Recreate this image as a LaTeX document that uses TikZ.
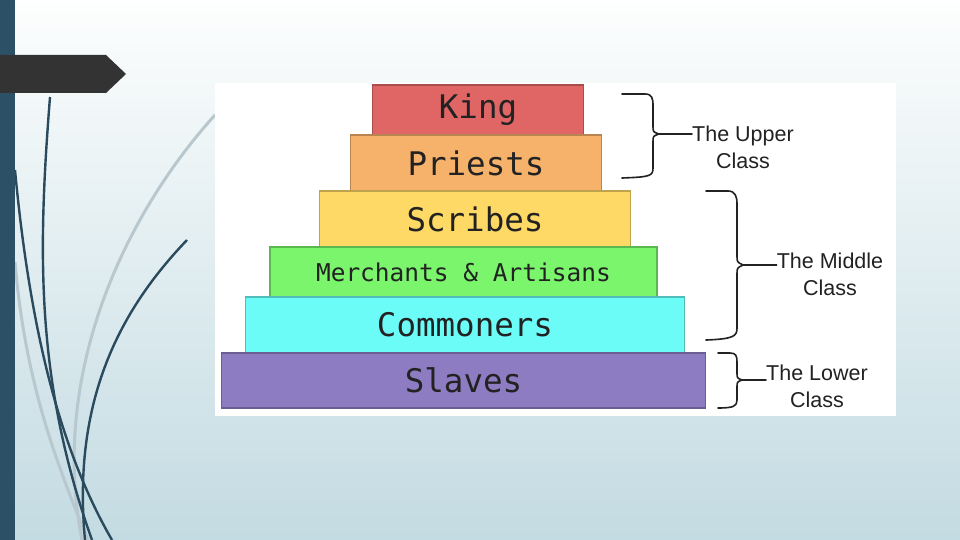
\documentclass[tikz,border=0pt]{standalone}
\usepackage{fontspec}
\setmainfont{Liberation Sans}
\newfontfamily\monofam{DejaVu Sans Mono}
\usetikzlibrary{shapes.geometric}
\definecolor{bgtop}{HTML}{FDFEFE}
\definecolor{bgbot}{HTML}{C3DBE2}
\definecolor{barcol}{HTML}{2C5066}
\definecolor{tagcol}{HTML}{333333}
\definecolor{curvecol}{HTML}{2A4A5E}
\definecolor{lightcurve}{HTML}{B8C8CE}
\definecolor{kingcol}{HTML}{E06666}
\definecolor{priestcol}{HTML}{F6B26B}
\definecolor{scribecol}{HTML}{FFD966}
\definecolor{merchcol}{HTML}{7AF56C}
\definecolor{commoncol}{HTML}{6CFCF8}
\definecolor{slavecol}{HTML}{8E7CC3}
\definecolor{txtcol}{HTML}{222222}
\tikzset{
  tier/.style={draw=#1!75!black, fill=#1, line width=1.2pt, inner sep=0pt,
    font=\monofam\fontsize{32.5}{36}\selectfont, text=txtcol},
  classlabel/.style={align=center, font=\fontsize{21.5}{27}\selectfont, text=txtcol, inner sep=0pt},
  bracecurve/.style={draw=txtcol, line width=1.6pt, line cap=round, line join=round},
  darkcurve/.style={draw=curvecol, line width=2.4pt},
  palecurve/.style={draw=lightcurve, line width=3pt}
}
\begin{document}
\begin{tikzpicture}[x=1pt,y=-1pt]
\useasboundingbox (0,0) rectangle (960,540);
% background
\shade[top color=bgtop, bottom color=bgbot] (0,0) rectangle (960,540);
% pale curves
\draw[palecurve] (215,115) .. controls (120,220) and (50,380) .. (82,540);
\draw[palecurve] (15,262) .. controls (25,380) and (55,460) .. (88,540);
% dark curves
\draw[darkcurve] (50,97) .. controls (38,250) and (35,380) .. (92,540);
\draw[darkcurve] (15,170) .. controls (30,330) and (60,450) .. (112,540);
\draw[darkcurve] (187,240) .. controls (120,310) and (72,400) .. (85,540);
% left bar and tag
\fill[barcol] (0,0) rectangle (15,540);
\fill[tagcol] (0,55) -- (106,55) -- (126,74) -- (106,93) -- (0,93) -- cycle;
% white image area
\fill[white] (215,83) rectangle (896,416);
% tiers
\node[tier=kingcol, minimum width=211pt, minimum height=50pt] (king) at (478,110) {King};
\node[tier=priestcol, minimum width=251pt, minimum height=56pt] (priests) at (476,163) {Priests};
\node[tier=scribecol, minimum width=311pt, minimum height=56pt] (scribes) at (475,219) {Scribes};
\node[tier=merchcol, minimum width=387pt, minimum height=50pt, font=\monofam\fontsize{24.5}{28}\selectfont] (merch) at (463.5,272) {Merchants \& Artisans};
\node[tier=commoncol, minimum width=439pt, minimum height=56pt] (common) at (465,325) {Commoners};
\node[tier=slavecol, minimum width=484pt, minimum height=55pt] (slaves) at (463.5,380.5) {Slaves};
% class labels
\node[classlabel] (upper) at (743,147) {The Upper\\Class};
\node[classlabel] (middle) at (830,274) {The Middle\\Class};
\node[classlabel] (lower) at (817,386) {The Lower\\Class};
% braces
\coordinate (utip) at (659,134);
\draw[bracecurve] (622,94) -- (645,94) .. controls (652,94) and (653,98) .. (653,106) -- (653,126)
  .. controls (653,132) .. (utip) .. controls (653,136) .. (653,142) -- (653,168)
  .. controls (653,176) and (650,177) .. (622,178);
\draw[bracecurve] (utip) -- (upper.west |- utip);
\coordinate (mtip) at (743,265);
\draw[bracecurve] (706,191) -- (728,191) .. controls (735,191) and (737,196) .. (737,204) -- (737,256)
  .. controls (737,262) .. (mtip) .. controls (737,268) .. (737,274) -- (737,328)
  .. controls (737,336) and (734,339) .. (706,340);
\draw[bracecurve] (mtip) -- (middle.west |- mtip);
\coordinate (ltip) at (742,380);
\draw[bracecurve] (718,353) -- (730,353) .. controls (736,353) and (737,356) .. (737,362) -- (737,373)
  .. controls (737,378) .. (ltip) .. controls (737,382) .. (737,387) -- (737,400)
  .. controls (737,406) and (734,408) .. (718,408);
\draw[bracecurve] (ltip) -- (lower.west |- ltip);
\end{tikzpicture}
\end{document}
